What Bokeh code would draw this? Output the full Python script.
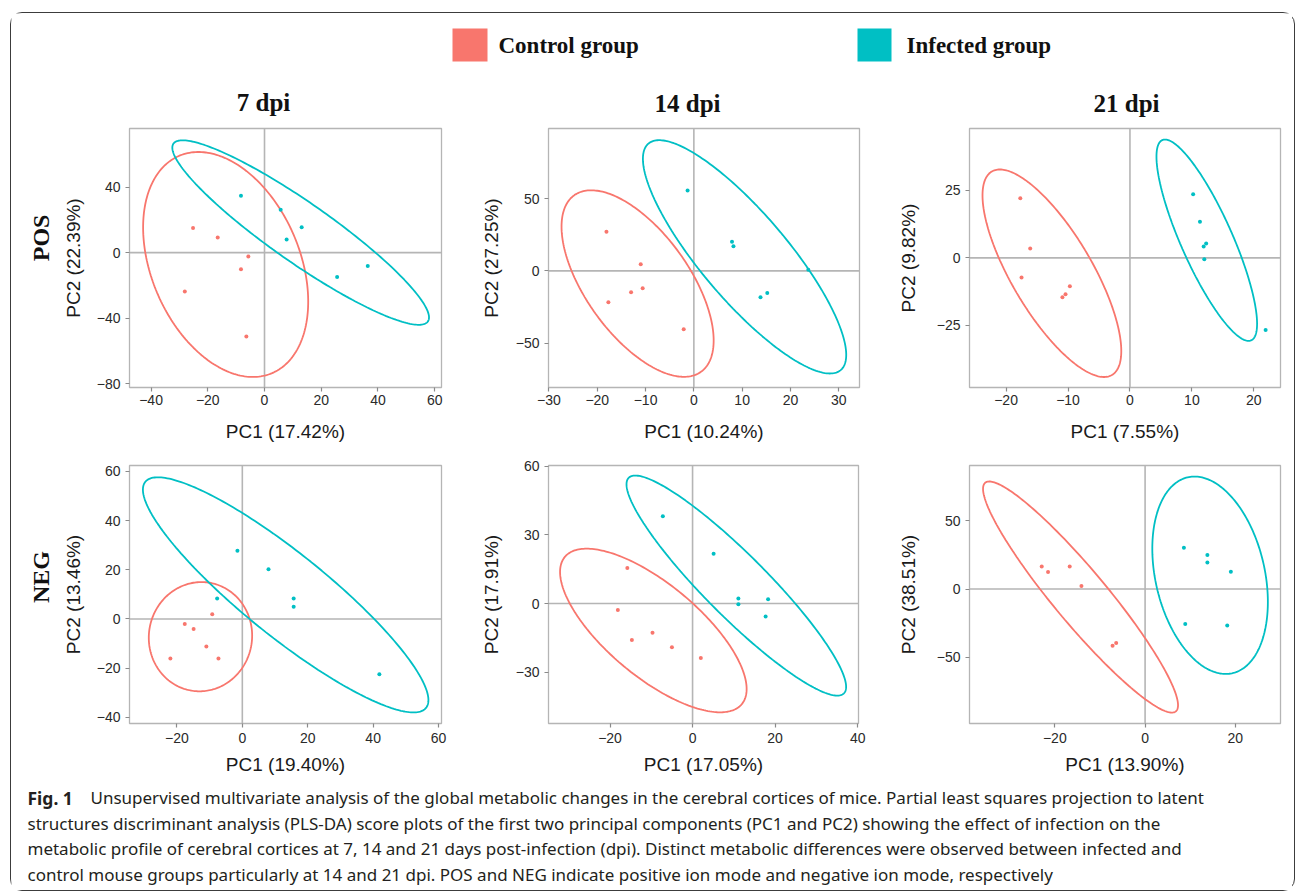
import numpy as np
from bokeh.plotting import figure
from bokeh.layouts import row, column
from bokeh.models import Range1d, FixedTicker, Span, CustomJSTickFormatter
from bokeh.core.properties import value
from bokeh.embed import file_html
from bokeh.resources import INLINE

# ---------------- data ----------------
groups = ["Control group", "Infected group"]
dpi_labels = ["7 dpi", "14 dpi", "21 dpi"]
mode_labels = ["POS", "NEG"]

# POS, 7 dpi
pos7_ctrl_x = [-25.2, -16.5, -5.7, -8.3, -28.1, -6.4]
pos7_ctrl_y = [15.1, 9.2, -2.4, -10.2, -23.7, -51.2]
pos7_inf_x = [-8.3, 5.7, 13.1, 7.8, 25.6, 36.4]
pos7_inf_y = [34.7, 26.1, 15.5, 8.0, -14.9, -8.2]
# POS, 14 dpi
pos14_ctrl_x = [-18.1, -11.0, -13.0, -10.6, -17.7, -2.1]
pos14_ctrl_y = [27.1, 4.6, -14.8, -12.0, -21.8, -40.5]
pos14_inf_x = [-1.3, 7.9, 8.2, 23.7, 15.2, 13.8]
pos14_inf_y = [55.6, 20.1, 17.1, 0.7, -15.3, -18.3]
# POS, 21 dpi
pos21_ctrl_x = [-17.7, -16.1, -17.5, -9.7, -10.4, -10.9]
pos21_ctrl_y = [22.1, 3.5, -7.3, -10.5, -13.5, -14.6]
pos21_inf_x = [10.2, 11.3, 12.3, 11.9, 12.0, 21.9]
pos21_inf_y = [23.6, 13.4, 5.3, 4.2, -0.5, -26.8]
# NEG, 7 dpi
neg7_ctrl_x = [-9.2, -17.6, -14.9, -11.0, -22.0, -7.3]
neg7_ctrl_y = [1.9, -2.0, -4.1, -11.2, -16.1, -16.1]
neg7_inf_x = [-1.5, 8.0, -7.7, 15.7, 15.7, 41.9]
neg7_inf_y = [27.7, 20.2, 8.3, 8.3, 5.0, -22.5]
# NEG, 14 dpi
neg14_ctrl_x = [-15.8, -18.1, -9.7, -14.7, -5.0, 2.0]
neg14_ctrl_y = [15.6, -2.8, -12.8, -16.0, -19.1, -23.8]
neg14_inf_x = [-7.2, 5.1, 11.1, 11.1, 18.3, 17.7]
neg14_inf_y = [38.2, 21.8, 2.2, -0.3, 1.9, -5.7]
# NEG, 21 dpi
neg21_ctrl_x = [-22.9, -21.5, -16.7, -14.1, -7.2, -6.4]
neg21_ctrl_y = [16.6, 12.4, 16.6, 2.2, -41.5, -39.5]
neg21_inf_x = [8.6, 13.8, 13.8, 19.0, 8.9, 18.2]
neg21_inf_y = [30.2, 24.9, 19.5, 12.7, -25.6, -26.8]

# confidence ellipses: centre x, centre y, half-width, half-height, correlation
pos7_ctrl_ell = [-13.7, -7.25, 29.1, 68.7, -0.33]
pos7_inf_ell = [12.75, 12.25, 45.25, 56.35, -0.92]
pos14_ctrl_ell = [-11.65, -8.8, 15.75, 64.6, -0.61]
pos14_inf_ell = [10.5, 9.7, 21.05, 80.8, -0.84]
pos21_ctrl_ell = [-12.6, -5.7, 11.2, 38.5, -0.75]
pos21_inf_ell = [12.4, 6.55, 8.12, 37.35, -0.83]
neg7_ctrl_ell = [-12.8, -7.2, 15.8, 22.2, 0.02]
neg7_inf_ell = [13.25, 9.8, 43.65, 47.8, -0.895]
neg14_ctrl_ell = [-9.5, -11.8, 22.6, 35.8, -0.715]
neg14_inf_ell = [10.6, 7.85, 26.6, 48.15, -0.92]
neg21_ctrl_ell = [-14.3, -5.85, 21.6, 84.65, -0.936]
neg21_inf_ell = [14.4, 10.1, 12.8, 72.3, -0.27]

x_titles = ["PC1 (17.42%)", "PC1 (10.24%)", "PC1 (7.55%)", "PC1 (19.40%)", "PC1 (17.05%)", "PC1 (13.90%)"]
y_titles = ["PC2 (22.39%)", "PC2 (27.25%)", "PC2 (9.82%)", "PC2 (13.46%)", "PC2 (17.91%)", "PC2 (38.51%)"]

x_ticks = [[-40, -20, 0, 20, 40, 60], [-30, -20, -10, 0, 10, 20, 30], [-20, -10, 0, 10, 20],
           [-20, 0, 20, 40, 60], [-20, 0, 20, 40], [-20, 0, 20]]
y_ticks = [[-80, -40, 0, 40], [-50, 0, 50], [-25, 0, 25],
           [-40, -20, 0, 20, 40, 60], [-30, 0, 30, 60], [-50, 0, 50]]

caption_bold = "Fig. 1"
caption_lines = [
    "Unsupervised multivariate analysis of the global metabolic changes in the cerebral cortices of mice. Partial least squares projection to latent",
    "structures discriminant analysis (PLS-DA) score plots of the first two principal components (PC1 and PC2) showing the effect of infection on the",
    "metabolic profile of cerebral cortices at 7, 14 and 21 days post-infection (dpi). Distinct metabolic differences were observed between infected and",
    "control mouse groups particularly at 14 and 21 dpi. POS and NEG indicate positive ion mode and negative ion mode, respectively",
]

# ---------------- styling ----------------
CTRL = "#F8766D"
INF = "#00BFC4"
GRID = "#b5b5b5"
SANS = "Liberation Sans"
SERIF = "Liberation Serif"

minus_fmt = CustomJSTickFormatter(code="return tick < 0 ? '\u2212' + Math.abs(tick) : '' + tick;")


def ellipse_xy(e):
    cx, cy, hx, hy, r = e
    t = np.linspace(0, 2 * np.pi, 240)
    return cx + hx * np.cos(t), cy + hy * (r * np.cos(t) + np.sqrt(1 - r * r) * np.sin(t))


def panel(i, xr, yr, cx, cy, ix, iy, ce, ie, bl, fw, br, bt, fh, bb, xst, xlst, ylst):
    p = figure(frame_width=fw, frame_height=fh, x_range=Range1d(*xr), y_range=Range1d(*yr),
               min_border_left=bl, min_border_right=br, min_border_top=bt, min_border_bottom=bb,
               output_backend="svg", toolbar_location=None,
               background_fill_color="white", border_fill_color="white")
    p.xgrid.visible = False
    p.ygrid.visible = False
    p.outline_line_color = GRID
    p.outline_line_width = 1.3
    for ax, ticks in ((p.xaxis[0], x_ticks[i]), (p.yaxis[0], y_ticks[i])):
        ax.ticker = FixedTicker(ticks=ticks)
        ax.formatter = minus_fmt
        ax.axis_line_color = None
        ax.minor_tick_line_color = None
        ax.major_tick_line_color = "#8a8a8a"
        ax.major_tick_line_width = 1.2
        ax.major_tick_out = 4
        ax.major_tick_in = 0
        ax.major_label_text_font = SANS
        ax.major_label_text_font_size = "14px"
        ax.major_label_text_color = "#2a2a2a"
        ax.axis_label_text_font = SANS
        ax.axis_label_text_font_size = "19px"
        ax.axis_label_text_font_style = "normal"
        ax.axis_label_text_color = "#1a1a1a"
    p.xaxis.axis_label = x_titles[i]
    p.yaxis.axis_label = y_titles[i]
    p.xaxis.major_label_standoff = xst
    p.xaxis.axis_label_standoff = xlst
    p.yaxis.major_label_standoff = 5
    p.yaxis.axis_label_standoff = ylst
    p.add_layout(Span(location=0, dimension="width", line_color=GRID, line_width=1.6, level="underlay"))
    p.add_layout(Span(location=0, dimension="height", line_color=GRID, line_width=1.6, level="underlay"))
    for e, col in ((ce, CTRL), (ie, INF)):
        ex, ey = ellipse_xy(e)
        p.line(ex, ey, line_color=col, line_width=1.8)
    p.scatter(cx, cy, size=4.0, color=CTRL, line_color=None)
    p.scatter(ix, iy, size=4.0, color=INF, line_color=None)
    return p


# page geometry: inner box content starts at (11, 13)
X0, Y0 = 11, 13
W = 1281
HDR_H = 105
R1_H = 329
R2_H = 331
CAP_H = 112

# ---- header ----
hdr = figure(width=W, height=HDR_H, x_range=Range1d(X0, X0 + W), y_range=Range1d(Y0 + HDR_H, Y0),
             min_border=0, output_backend="svg", toolbar_location=None, outline_line_color=None)
hdr.axis.visible = False
hdr.grid.visible = False
hdr.quad(left=[452, 857], right=[487, 891], top=[28, 28], bottom=[61, 61], color=[CTRL, INF], line_color=None)
hdr.text(x=[498, 906], y=[45, 45], text=groups, text_font=value(SERIF), text_font_style="bold",
         text_font_size="23px", text_baseline="middle", text_align="left", text_color="#111111")
hdr.text(x=[263, 687, 1126], y=[102, 103, 103], text=dpi_labels, text_font=value(SERIF), text_font_style="bold",
         text_font_size="25px", text_baseline="middle", text_align="center", text_color="#111111")


def side_label(txt, y_top, h, yc):
    f = figure(width=44, height=h, x_range=Range1d(X0, 55), y_range=Range1d(y_top + h, y_top),
               min_border=0, output_backend="svg", toolbar_location=None, outline_line_color=None)
    f.axis.visible = False
    f.grid.visible = False
    f.text(x=[40], y=[yc], text=[txt], angle=np.pi / 2, text_font=value(SERIF), text_font_style="bold",
           text_font_size="24px", text_baseline="middle", text_align="center", text_color="#111111")
    return f


R1_TOP = Y0 + HDR_H          # 118
R2_TOP = R1_TOP + R1_H        # 447
CAP_TOP = R2_TOP + R2_H       # 778

lab1 = side_label(mode_labels[0], R1_TOP, R1_H, 257)
lab2 = side_label(mode_labels[1], R2_TOP, R2_H, 590)

p1 = panel(0, (-47.6, 62.4), (-82.4, 75.8), pos7_ctrl_x, pos7_ctrl_y, pos7_inf_x, pos7_inf_y,
           pos7_ctrl_ell, pos7_inf_ell, 74, 312, 36, 10, 259, 60, 3, 13, 10)
p2 = panel(1, (-30.1, 34.3), (-80.8, 98.6), pos14_ctrl_x, pos14_ctrl_y, pos14_inf_x, pos14_inf_y,
           pos14_ctrl_ell, pos14_inf_ell, 70, 311, 35, 10, 259, 60, 3, 13, 11)
p3 = panel(2, (-25.9, 24.3), (-48.1, 48.0), pos21_ctrl_x, pos21_ctrl_y, pos21_inf_x, pos21_inf_y,
           pos21_ctrl_ell, pos21_inf_ell, 74, 311, 14, 10, 259, 60, 3, 13, 15)
p4 = panel(3, (-34.5, 60.9), (-42.5, 62.4), neg7_ctrl_x, neg7_ctrl_y, neg7_inf_x, neg7_inf_y,
           neg7_ctrl_ell, neg7_inf_ell, 74, 312, 36, 18, 258, 55, 5, 8, 10)
p5 = panel(4, (-34.9, 40.2), (-52.5, 60.4), neg14_ctrl_x, neg14_ctrl_y, neg14_inf_x, neg14_inf_y,
           neg14_ctrl_ell, neg14_inf_ell, 70, 310, 36, 18, 258, 55, 5, 8, 11)
p6 = panel(5, (-38.9, 30.0), (-98.5, 90.5), neg21_ctrl_x, neg21_ctrl_y, neg21_inf_x, neg21_inf_y,
           neg21_ctrl_ell, neg21_inf_ell, 74, 311, 14, 18, 258, 55, 5, 8, 15)

# ---- caption ----
cap = figure(width=W, height=CAP_H, x_range=Range1d(X0, X0 + W), y_range=Range1d(CAP_TOP + CAP_H, CAP_TOP),
             min_border=0, output_backend="svg", toolbar_location=None, outline_line_color=None)
cap.axis.visible = False
cap.grid.visible = False
cap.text(x=[27], y=[797], text=[caption_bold], text_font=value("Noto Sans"), text_font_style="bold",
         text_font_size="17.5px", text_baseline="middle", text_color="#231f20")
cap.text(x=[90, 27, 27, 27], y=[797, 822.5, 848, 873.5], text=caption_lines, text_font=value("Noto Sans"),
         text_font_size="17px", text_baseline="middle", text_color="#231f20")

layout = column(
    hdr,
    row(lab1, p1, p2, p3),
    row(lab2, p4, p5, p6),
    cap,
    margin=(12, 0, 0, 10),
    styles={"border": "1.3px solid #3c3c3c", "border-radius": "12px", "background-color": "white"},
)

open("out.html", "w").write(file_html(layout, INLINE))
